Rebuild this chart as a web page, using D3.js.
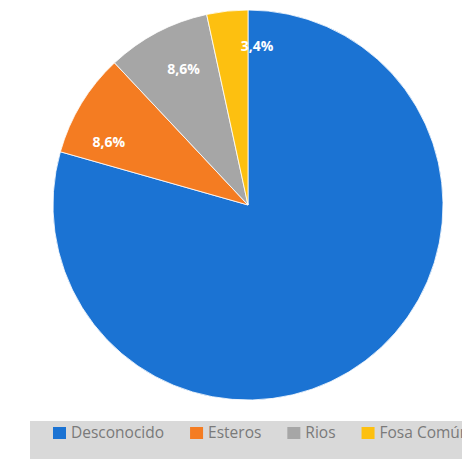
<!DOCTYPE html>
<html>
<head>
<meta charset="utf-8">
<script src="https://cdn.jsdelivr.net/npm/d3@7"></script>
<style>
  body { margin: 0; background: #fff; overflow: hidden; }
</style>
</head>
<body>
<script>
var categories = ["Desconocido", "Esteros", "Rios", "Fosa Común"];
var values = [79.4, 8.6, 8.6, 3.4];
var labels = ["", "8,6%", "8,6%", "3,4%"];
var colors = ["#1b73d3", "#f47c22", "#a6a6a6", "#fdc010"];

var width = 462, height = 459;
var cx = 248, cy = 205, radius = 195;

var svg = d3.select("body").append("svg")
	.attr("width", width)
	.attr("height", height);

var data = categories.map(function(c, i) {
	return {name: c, value: values[i], label: labels[i], color: colors[i]};
});

// excel draws clockwise from 12 o'clock
var pie = d3.pie()
	.sort(null)
	.value(function(d) { return d.value; });

var arc = d3.arc().innerRadius(0).outerRadius(radius);

var g = svg.append("g")
	.attr("transform", "translate(" + cx + "," + cy + ")");

var arcs = pie(data);

g.selectAll("path")
	.data(arcs)
	.enter().append("path")
	.attr("d", arc)
	.attr("fill", function(d) { return d.data.color; })
	.attr("stroke", "#fff")
	.attr("stroke-width", 0.8);

// excel "best fit" label spots: nudge angle (rad) and radius a bit
var labelShift = {"Esteros": [-0.12, 153], "Rios": [0.04, 150], "Fosa Común": [0, 160]};

g.selectAll("text.lbl")
	.data(arcs.filter(function(d) { return d.data.label; }))
	.enter().append("text")
	.attr("class", "lbl")
	.attr("transform", function(d) {
		var s = labelShift[d.data.name] || [0, 152];
		var a = (d.startAngle + d.endAngle) / 2 + s[0];
		var c = [Math.sin(a) * s[1], -Math.cos(a) * s[1]];
		// narrow slice: label sits across the edge, pushed right
		if ((d.endAngle - d.startAngle) < 0.3) c[0] += 26;
		return "translate(" + c + ")";
	})
	.attr("text-anchor", "middle")
	.attr("dy", "0.35em")
	.style("font-family", "'Open Sans', sans-serif")
	.style("font-weight", "bold")
	.style("font-size", "14px")
	.attr("fill", "#fff")
	.text(function(d) { return d.data.label; });

// legend band
svg.append("rect")
	.attr("x", 30).attr("y", 421)
	.attr("width", width - 30).attr("height", height - 421)
	.attr("fill", "#d9d9d9");

var legend = svg.append("g").attr("transform", "translate(53,433)");
var xpos = 0;
data.forEach(function(d) {
	var item = legend.append("g").attr("transform", "translate(" + xpos + ",0)");
	item.append("rect")
		.attr("x", 0).attr("y", -6)
		.attr("width", 13).attr("height", 12)
		.attr("fill", d.color);
	var t = item.append("text")
		.attr("x", 18)
		.attr("dy", "0.35em")
		.style("font-family", "'Open Sans', sans-serif")
		.style("font-size", "15.5px")
		.attr("fill", "#7a7a7a")
		.text(d.name);
	xpos += 18 + t.node().getComputedTextLength() + 26;
});
</script>
</body>
</html>
